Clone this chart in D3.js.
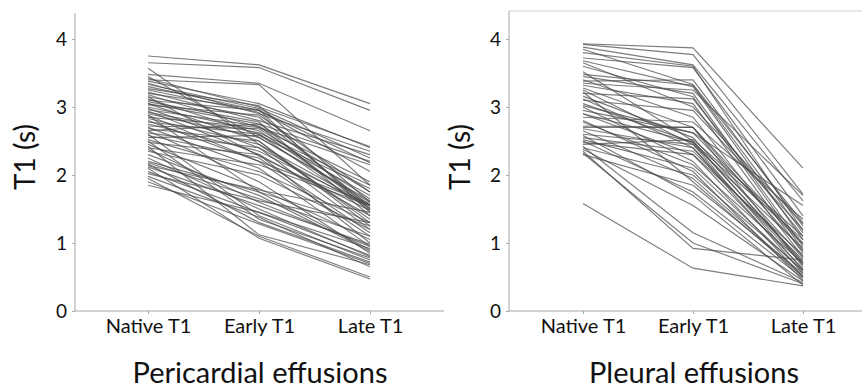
<!DOCTYPE html>
<html><head><meta charset="utf-8">
<script src="https://cdn.jsdelivr.net/npm/d3@7/dist/d3.min.js"></script>
<style>body{margin:0;background:#fff}svg{display:block}</style>
</head><body><svg id="c" width="862" height="391"></svg>
<script>
const categories = ["Native T1", "Early T1", "Late T1"];
const yTicks = [0, 1, 2, 3, 4];
const yLabel = "T1 (s)";
const titles = ["Pericardial effusions", "Pleural effusions"];

// Pericardial effusions: each index is one patient
const periNative = [3.75,3.65,3.48,3.40,3.57,3.42,3.38,3.33,3.30,3.27,3.25,3.22,3.20,3.18,3.15,3.12,3.10,3.08,3.05,3.03,3.00,2.98,2.96,2.94,2.92,2.90,2.88,2.85,2.83,2.80,2.78,2.75,2.72,2.70,2.68,2.65,2.62,2.60,2.58,2.55,2.52,2.50,2.48,2.45,2.42,2.40,2.38,2.35,2.30,2.25,2.20,2.18,2.16,2.14,2.12,2.10,2.05,2.02,1.98,1.95,1.90,1.85,3.35,3.05,2.65,3.45,2.88,3.15];
const periEarly  = [3.62,3.58,3.35,3.33,2.45,3.00,3.05,2.98,2.95,3.02,2.92,2.80,2.96,2.70,2.85,2.60,2.95,2.78,2.50,2.88,2.65,2.40,2.72,2.30,2.62,2.55,1.75,2.70,2.45,2.20,2.60,2.35,2.68,2.10,2.50,1.90,2.40,1.40,2.25,2.58,2.05,1.35,2.30,1.80,1.12,2.15,1.60,2.00,1.70,1.50,1.75,1.65,1.30,1.78,1.55,1.07,1.45,1.62,1.38,1.10,1.28,1.45,2.90,2.75,2.75,2.55,2.20,2.28];
const periLate   = [3.05,2.95,2.65,1.85,1.55,2.42,2.40,2.25,2.18,1.60,1.50,2.30,1.45,1.90,1.55,1.70,2.05,1.40,1.30,1.75,1.55,1.20,1.50,1.00,1.85,1.60,0.90,2.15,1.35,1.10,1.48,1.55,1.65,0.95,1.25,0.85,1.52,0.75,1.15,1.80,1.30,0.78,1.40,1.05,0.68,1.55,0.95,1.20,0.88,0.80,1.25,1.10,0.72,1.45,0.98,0.47,0.82,1.30,0.65,0.50,0.70,0.92,2.35,2.20,1.75,1.62,1.58,1.48];

// Pleural effusions
const pleuNative = [3.93,3.92,3.88,3.85,3.80,3.72,3.68,3.60,3.52,3.48,3.45,3.40,3.38,3.35,3.32,3.28,3.25,3.20,3.16,3.12,3.10,3.05,3.00,2.95,2.90,2.85,2.80,2.72,2.70,2.68,2.65,2.60,2.55,2.52,2.50,2.48,2.45,2.42,2.40,2.38,2.35,2.32,2.30,1.58,3.02,2.78,3.22,2.58,3.65,2.90];
const pleuEarly  = [3.87,3.77,3.62,3.33,3.60,3.58,3.30,3.15,2.50,3.32,3.20,2.85,3.40,3.25,3.05,2.70,2.45,3.12,2.55,2.40,2.95,2.48,2.20,2.62,2.30,2.78,2.05,2.70,2.70,2.40,1.95,2.45,2.35,2.10,1.75,2.30,2.52,1.15,2.00,1.55,0.92,1.00,1.85,0.63,2.62,2.15,1.90,1.70,3.00,2.48];
const pleuLate   = [2.10,1.72,1.62,1.30,1.18,1.40,1.05,0.90,0.70,1.15,0.95,0.80,1.25,1.70,0.85,0.65,0.60,1.10,0.78,0.55,1.20,0.72,0.50,0.98,0.62,1.35,0.45,1.00,0.88,0.68,0.52,0.92,0.75,0.58,0.48,0.82,1.10,0.42,0.60,0.44,0.75,0.40,0.55,0.37,1.55,0.70,0.50,0.38,1.28,1.05];

const panels = [
  {native: periNative, early: periEarly, late: periLate, axisX: 75, xEnd: 444, cx: [148, 370], top: 13, border: false, labelX: 24, titleX: 260},
  {native: pleuNative, early: pleuEarly, late: pleuLate, axisX: 509, xEnd: 862, cx: [583, 803], top: 11, border: true, labelX: 459, titleX: 694}
];

const svg = d3.select("#c");
const font = "Lato, 'Open Sans', sans-serif";
const axisCol = "#a6a6a6";
const y = d3.scaleLinear().domain([0, 4]).range([311, 39]);

panels.forEach((p, i) => {
  const g = svg.append("g");
  const x = d3.scalePoint().domain(categories).range(p.cx);
  const rows = p.native.map((v, k) => [p.native[k], p.early[k], p.late[k]]);
  const line = d3.line().x((d, j) => x(categories[j])).y(d => y(d));
  g.append("g").selectAll("path").data(rows).join("path")
    .attr("d", line).attr("fill", "none")
    .attr("stroke", "#4a4a4a").attr("stroke-opacity", 0.72).attr("stroke-width", 1.15);

  // y axis
  const ya = g.append("g").attr("transform", `translate(${p.axisX},0)`)
    .call(d3.axisLeft(y).tickValues(yTicks).tickSize(3).tickPadding(5).tickFormat(d3.format("d")));
  ya.select(".domain").remove();
  ya.selectAll("line").attr("stroke", axisCol);
  ya.selectAll("text").attr("font-family", font).attr("font-size", 19).attr("fill", "#111");
  g.append("line").attr("x1", p.axisX).attr("x2", p.axisX).attr("y1", p.top).attr("y2", 311).attr("stroke", axisCol);
  if (p.border) g.append("line").attr("x1", p.axisX).attr("x2", p.xEnd).attr("y1", p.top).attr("y2", p.top).attr("stroke", "#d0d0d0");

  // x axis
  const xa = g.append("g").attr("transform", "translate(0,311)")
    .call(d3.axisBottom(x).tickSize(3).tickPadding(5));
  xa.select(".domain").remove();
  xa.selectAll("line").attr("stroke", axisCol);
  xa.selectAll("text").attr("font-family", font).attr("font-size", 20).attr("fill", "#111");
  g.append("line").attr("x1", p.axisX).attr("x2", p.xEnd).attr("y1", 311).attr("y2", 311).attr("stroke", axisCol);

  g.append("text").attr("transform", `translate(${p.labelX},157) rotate(-90)`)
    .attr("text-anchor", "middle").attr("dominant-baseline", "central")
    .attr("font-family", font).attr("font-size", 28).attr("fill", "#111").text(yLabel);
  g.append("text").attr("x", p.titleX).attr("y", 383).attr("text-anchor", "middle")
    .attr("font-family", font).attr("font-size", 29).attr("fill", "#111").text(titles[i]);
});
</script></body></html>
